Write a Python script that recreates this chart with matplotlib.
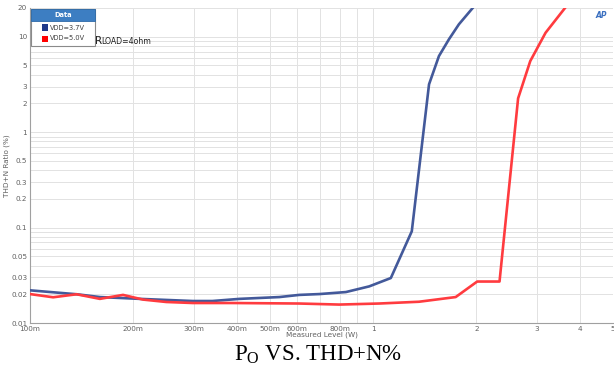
import matplotlib
matplotlib.use("Agg")
import matplotlib.pyplot as plt
from matplotlib.patches import Rectangle
from matplotlib.ticker import FixedLocator, NullFormatter, LogLocator

# ---------------- data ----------------
blue_w = [0.1, 0.137, 0.16, 0.209, 0.298, 0.34, 0.408, 0.533, 0.609, 0.697,
          0.833, 0.974, 1.126, 1.296, 1.455, 1.555, 1.663, 1.778, 1.966, 2.02]
blue_thd = [0.022, 0.020, 0.0187, 0.0179, 0.0170, 0.0170, 0.0179, 0.0187, 0.0197, 0.0201,
            0.0211, 0.0242, 0.0296, 0.0914, 3.17, 6.27, 9.4, 13.5, 20.7, 22.5]

red_w = [0.1, 0.1168, 0.1367, 0.1598, 0.1867, 0.2134, 0.2496, 0.2983, 0.389, 0.609,
         0.796, 1.041, 1.36, 1.74, 2.01, 2.335, 2.645, 2.87, 3.18, 3.65, 3.75]
red_thd = [0.0201, 0.0186, 0.0200, 0.0179, 0.0197, 0.0176, 0.0166, 0.0162, 0.0162, 0.0160,
           0.0156, 0.0160, 0.0167, 0.0187, 0.0272, 0.0272, 2.26, 5.56, 11.0, 20.7, 23.0]

series_labels = ["VDD=3.7V", "VDD=5.0V"]
x_ticks = [0.1, 0.2, 0.3, 0.4, 0.5, 0.6, 0.8, 1, 2, 3, 4, 5]
x_ticklabels = ["100m", "200m", "300m", "400m", "500m", "600m", "800m", "1", "2", "3", "4", "5"]
y_ticks = [0.01, 0.02, 0.03, 0.05, 0.1, 0.2, 0.3, 0.5, 1, 2, 3, 5, 10, 20]
y_ticklabels = ["0.01", "0.02", "0.03", "0.05", "0.1", "0.2", "0.3", "0.5", "1", "2", "3", "5", "10", "20"]

BLUE = "#43599a"
RED = "#ff3b3f"

W, H = 614, 378
fig = plt.figure(figsize=(W / 100, H / 100), dpi=100)

def fx(px):
    return px / W

def fy(py):
    return 1 - py / H

ax = fig.add_axes([fx(30), fy(323), fx(613) - fx(30), fy(8) - fy(323)])
ax.set_xscale("log")
ax.set_yscale("log")
ax.set_xlim(0.1, 5)
ax.set_ylim(0.01, 20)

ax.plot(blue_w, blue_thd, color=BLUE, lw=1.9, solid_joinstyle="round", zorder=3, clip_on=True)
ax.plot(red_w, red_thd, color=RED, lw=1.9, solid_joinstyle="round", zorder=4, clip_on=True)

ax.xaxis.set_major_locator(FixedLocator(x_ticks))
ax.set_xticklabels(x_ticklabels)
ax.xaxis.set_minor_locator(FixedLocator([0.7, 0.9]))
ax.xaxis.set_minor_formatter(NullFormatter())
ax.yaxis.set_major_locator(FixedLocator(y_ticks))
ax.set_yticklabels(y_ticklabels)
ax.yaxis.set_minor_locator(LogLocator(base=10, subs=[4, 6, 7, 8, 9]))
ax.yaxis.set_minor_formatter(NullFormatter())

ax.grid(True, which="both", color="#e2e2e2", lw=0.7, zorder=0)
ax.tick_params(which="both", length=0, labelsize=5.2, labelcolor="#606060", pad=2)
for s in ["top", "right"]:
    ax.spines[s].set_visible(False)
for s in ["left", "bottom"]:
    ax.spines[s].set_color("#a0a0a0")
    ax.spines[s].set_linewidth(0.8)

ax.set_xlabel("Measured Level (W)", fontsize=5.2, color="#606060", labelpad=0)
ax.set_ylabel("THD+N Ratio (%)", fontsize=5.2, color="#606060", labelpad=1)

# legend box
lx0, lx1, ly0, ly1 = 31, 95, 9, 46
fig.patches.append(Rectangle((fx(lx0), fy(ly1)), fx(lx1) - fx(lx0), fy(ly0) - fy(ly1),
                             transform=fig.transFigure, facecolor="white",
                             edgecolor="#8a8a8a", lw=0.8, zorder=5))
fig.patches.append(Rectangle((fx(lx0), fy(21)), fx(lx1) - fx(lx0), fy(ly0) - fy(21),
                             transform=fig.transFigure, facecolor="#3d7ec2",
                             edgecolor="#2e6aa8", lw=0.6, zorder=6))
fig.text(fx(63), fy(15), "Data", fontsize=4.8, color="white", ha="center", va="center",
         fontweight="bold", zorder=7)
for i, (lab, col) in enumerate(zip(series_labels, ["#1f3a8a", "#ff0000"])):
    yc = 27.5 + i * 11
    fig.patches.append(Rectangle((fx(42), fy(yc + 3)), fx(48) - fx(42), fy(yc - 3) - fy(yc + 3),
                                 transform=fig.transFigure, facecolor=col, edgecolor="none", zorder=7))
    fig.text(fx(50), fy(yc), lab, fontsize=4.8, color="#404040", ha="left", va="center", zorder=7)

# R_LOAD annotation
fig.text(fx(95), fy(44), "R", fontsize=7.5, color="#202020", ha="left", va="baseline")
fig.text(fx(101.5), fy(44), "LOAD=4ohm", fontsize=5.6, color="#202020", ha="left", va="baseline")

# AP logo
fig.text(fx(601), fy(16), "AP", fontsize=5.5, color="#3a6fc0", ha="center", va="center",
         fontweight="bold", fontstyle="italic")

# caption
plt.rcParams["mathtext.fontset"] = "custom"
plt.rcParams["mathtext.rm"] = "Liberation Serif"
fig.text(fx(318), fy(355), r"P$_\mathrm{O}$ VS. THD+N%", fontsize=16.5, family="Liberation Serif",
         ha="center", va="center", color="#000000")

fig.savefig("out.png", dpi=100, facecolor="white")
